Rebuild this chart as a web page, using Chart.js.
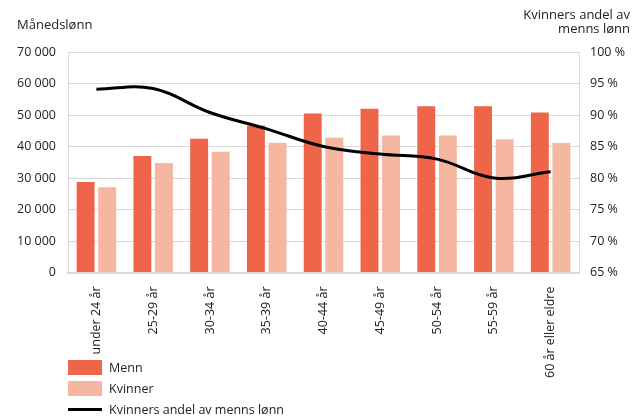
<!DOCTYPE html>
<html>
<head>
    <title>Månedslønn etter alder</title>
    <script src="https://cdn.jsdelivr.net/npm/chart.js"></script>
    <style>
        body { margin: 0; font-family: "Open Sans", Arial, sans-serif; color: #222; }
        .wrap { position: relative; width: 643px; height: 417px; }
        canvas { position: absolute; left: 0; top: 0; }
        .ytitle { position: absolute; font-size: 13px; line-height: 14px; white-space: nowrap; }
        .legend { position: absolute; left: 68px; top: 357px; font-size: 12.5px; }
        .legend div { display: flex; align-items: center; height: 21px; }
        .legend span.box { width: 34px; height: 15px; margin-right: 7px; }
        .legend span.line { width: 34px; height: 3px; background: #000; margin-right: 7px; }
    </style>
</head>
<body>
    <div class="wrap">
        <canvas id="lonnChart" width="643" height="417"></canvas>
        <div class="ytitle" style="left:17px; top:17px;">Månedslønn</div>
        <div class="ytitle" style="right:13px; top:7px; text-align:right;">Kvinners andel av<br>menns lønn</div>
        <div class="legend" id="legend"></div>
    </div>

    <script>
        const categories = ['under 24 år', '25-29 år', '30-34 år', '35-39 år', '40-44 år', '45-49 år', '50-54 år', '55-59 år', '60 år eller eldre'];
        const menn = [28700, 37000, 42500, 46700, 50500, 52000, 52800, 52800, 50800];
        const kvinner = [27100, 34800, 38300, 41200, 42800, 43500, 43500, 42300, 41100];
        const andel = [94.1, 94.2, 90.4, 87.8, 85.0, 83.8, 83.0, 80.0, 81.0];

        const rodt = '#ee6549';
        const lys = '#f6b7a0';

        Chart.defaults.font.family = '"Open Sans", Arial, sans-serif';
        Chart.defaults.font.size = 12.5;
        Chart.defaults.color = '#222';

        const ctx = document.getElementById('lonnChart').getContext('2d');
        const chart = new Chart(ctx, {
            type: 'bar',
            data: {
                labels: categories,
                datasets: [
                    {
                        label: 'Menn',
                        data: menn,
                        backgroundColor: rodt,
                        yAxisID: 'y',
                        order: 1,
                        categoryPercentage: 0.76,
                        barPercentage: 0.83
                    },
                    {
                        label: 'Kvinner',
                        data: kvinner,
                        backgroundColor: lys,
                        yAxisID: 'y',
                        order: 1,
                        categoryPercentage: 0.76,
                        barPercentage: 0.83
                    },
                    {
                        type: 'line',
                        label: 'Kvinners andel av menns lønn',
                        data: andel,
                        borderColor: '#000',
                        borderWidth: 3,
                        pointRadius: 0,
                        tension: 0.4,
                        fill: false,
                        yAxisID: 'y1',
                        order: 0
                    }
                ]
            },
            options: {
                responsive: false,
                animation: false,
                layout: { padding: { top: 52, left: 4, right: 6, bottom: 33 } },
                plugins: {
                    legend: { display: false },
                    tooltip: { enabled: false }
                },
                scales: {
                    x: {
                        grid: { display: false },
                        border: { color: '#d9d9d9', width: 2 },
                        ticks: { minRotation: 90, maxRotation: 90, padding: 6, color: '#222' }
                    },
                    y: {
                        position: 'left',
                        min: 0,
                        max: 70000,
                        afterFit: s => { s.width = 64; },
                        ticks: {
                            stepSize: 10000,
                            padding: 12,
                            callback: v => v.toString().replace(/\B(?=(\d{3})+(?!\d))/g, ' ')
                        },
                        grid: { color: '#d9d9d9', drawTicks: false },
                        border: { color: '#d9d9d9' }
                    },
                    y1: {
                        position: 'right',
                        min: 65,
                        max: 100,
                        afterFit: s => { s.width = 58; },
                        ticks: {
                            stepSize: 5,
                            padding: 11,
                            callback: v => v + ' %'
                        },
                        grid: { display: false, drawTicks: false },
                        border: { color: '#d9d9d9' }
                    }
                }
            }
        });

        // legend stacked vertically like the original
        const legend = document.getElementById('legend');
        chart.data.datasets.forEach(ds => {
            const row = document.createElement('div');
            const mark = document.createElement('span');
            if (ds.type === 'line') {
                mark.className = 'line';
            } else {
                mark.className = 'box';
                mark.style.background = ds.backgroundColor;
            }
            row.appendChild(mark);
            row.appendChild(document.createTextNode(ds.label));
            legend.appendChild(row);
        });
    </script>
</body>
</html>
